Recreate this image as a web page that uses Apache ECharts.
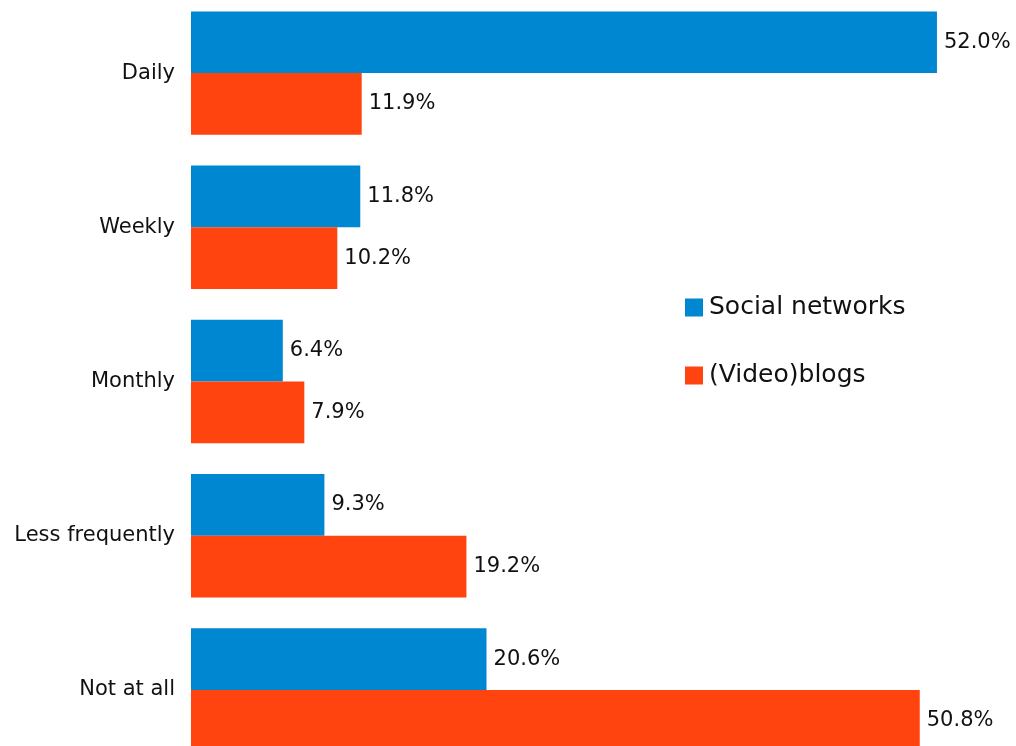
<!DOCTYPE html>
<html>
<head>
<meta charset="utf-8">
<script src="https://cdn.jsdelivr.net/npm/echarts@6/dist/echarts.min.js"></script>
<style>
  html, body { margin: 0; padding: 0; background: #ffffff; }
  #chart { width: 1016px; height: 746px; }
</style>
</head>
<body>
<div id="chart"></div>
<script>
// How often people follow content, by channel (percent of respondents)
const categories = ['Daily', 'Weekly', 'Monthly', 'Less frequently', 'Not at all'];
const socialNetworks = [52.0, 11.8, 6.4, 9.3, 20.6];
const videoBlogs = [11.9, 10.2, 7.9, 19.2, 50.8];
const seriesNames = ['Social networks', '(Video)blogs'];

const FONT = 'DejaVu Sans, Verdana, sans-serif';
const TEXT = '#111111';

const chart = echarts.init(document.getElementById('chart'), null, { renderer: 'canvas' });

const valueLabel = {
  show: true,
  position: 'right',
  distance: 7,
  fontFamily: FONT,
  fontSize: 21,
  color: TEXT,
  formatter: p => p.value.toFixed(1) + '%'
};

chart.setOption({
  animation: false,
  backgroundColor: '#ffffff',
  grid: {
    left: 191,
    top: -4,
    width: 789,
    height: 771,
    containLabel: false,
    outerBoundsMode: 'none'
  },
  legend: {
    orient: 'vertical',
    left: 685,
    top: 295,
    padding: 0,
    itemWidth: 18,
    itemHeight: 18,
    itemGap: 43,
    icon: 'rect',
    textStyle: { fontFamily: FONT, fontSize: 25, color: TEXT, padding: [0, 0, 0, 1] },
    data: seriesNames
  },
  xAxis: {
    type: 'value',
    min: 0,
    max: 55,
    show: false
  },
  yAxis: {
    type: 'category',
    inverse: true,
    data: categories,
    axisLine: { show: false },
    axisTick: { show: false },
    splitLine: { show: false },
    axisLabel: { fontFamily: FONT, fontSize: 21, color: TEXT, margin: 16 }
  },
  series: [
    {
      name: seriesNames[0],
      type: 'bar',
      data: socialNetworks,
      barGap: '0%',
      barCategoryGap: '20%',
      itemStyle: { color: '#0087D1' },
      label: valueLabel
    },
    {
      name: seriesNames[1],
      type: 'bar',
      data: videoBlogs,
      barGap: '0%',
      barCategoryGap: '20%',
      itemStyle: { color: '#FF4410' },
      label: valueLabel
    }
  ]
});
</script>
</body>
</html>
